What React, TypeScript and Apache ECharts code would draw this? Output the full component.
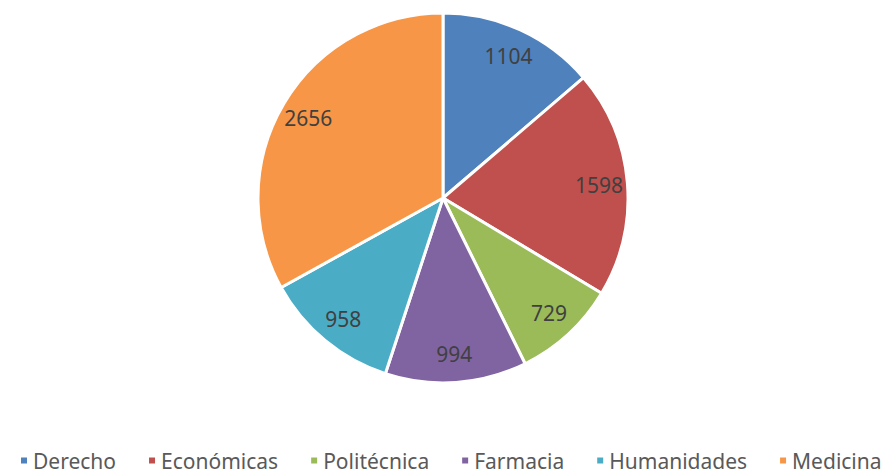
import React, { useEffect, useRef } from "react";
import * as echarts from "echarts";

const categories = ["Derecho", "Económicas", "Politécnica", "Farmacia", "Humanidades", "Medicina"];
const values = [1104, 1598, 729, 994, 958, 2656];
const colors = ["#4F81BD", "#C0504D", "#9BBB59", "#8064A2", "#4BACC6", "#F79646"];

export default function App() {
  const ref = useRef<HTMLDivElement>(null);
  useEffect(() => {
    if (!ref.current) return;
    const chart = echarts.init(ref.current, null, { renderer: "svg" });
    const data = categories.map((name, i) => ({ name, value: values[i], itemStyle: { color: colors[i] } }));
    chart.setOption({
      animation: false,
      backgroundColor: "#ffffff",
      legend: {
        bottom: 3,
        left: 19,
        width: 869,
        padding: 0,
        icon: "rect",
        itemWidth: 8,
        itemHeight: 8,
        itemGap: 31,
        data: categories,
        textStyle: { fontFamily: "Noto Sans", fontSize: 21, color: "#595959" },
      },
      series: [
        {
          type: "pie",
          center: [443, 198],
          radius: 185,
          startAngle: 90,
          clockwise: true,
          data,
          label: { show: false },
          labelLine: { show: false },
          itemStyle: { borderColor: "#ffffff", borderWidth: 3 },
          emphasis: { disabled: true },
        },
        {
          type: "pie",
          center: [443, 198],
          radius: [122, 185],
          startAngle: 90,
          clockwise: true,
          silent: true,
          legendHoverLink: false,
          data: categories.map((name, i) => ({ name, value: values[i], itemStyle: { color: "transparent" } })),
          label: {
            show: true,
            position: "inside",
            formatter: "{c}",
            fontFamily: "Noto Sans",
            fontSize: 21,
            color: "#404040",
          },
          labelLine: { show: false },
          emphasis: { disabled: true },
        },
      ],
    });
    return () => chart.dispose();
  }, []);
  return <div ref={ref} style={{ position: "fixed", left: 0, top: 0, width: 888, height: 474 }} />;
}
